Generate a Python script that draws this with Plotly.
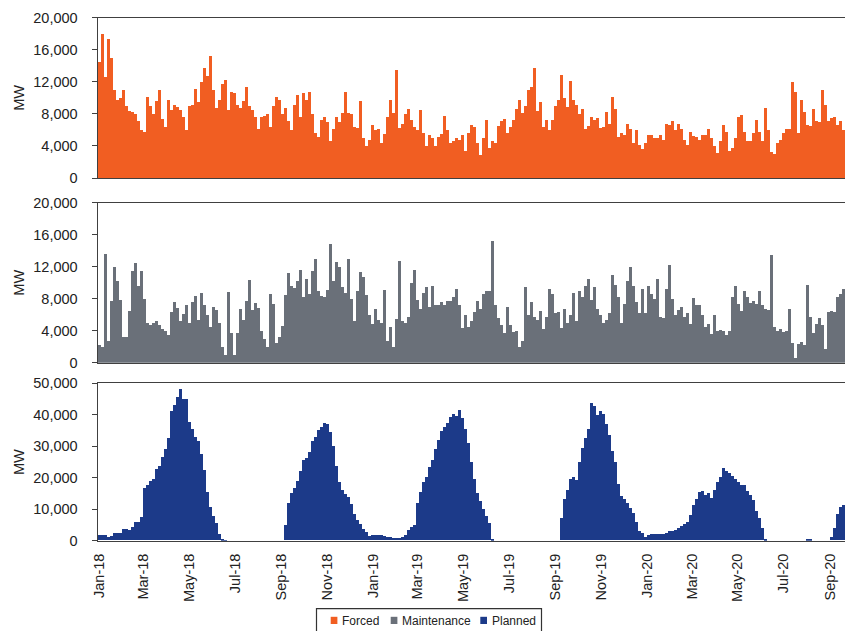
import pandas as pd
import plotly.graph_objects as go

# Outage levels in thousands of MW, one reading every 4 days from 1 Jan 2018
forced_k = [
    14.5, 18.0, 12.6, 17.4, 15.0, 11.0, 9.8, 10.0, 11.0, 9.0,
    8.4, 8.3, 8.0, 7.2, 6.0, 5.8, 10.2, 9.0, 8.0, 9.6,
    11.0, 7.4, 6.4, 9.8, 8.5, 9.2, 8.9, 8.5, 7.6, 6.0,
    9.0, 9.2, 11.2, 9.5, 12.0, 13.8, 12.8, 15.2, 11.0, 8.8,
    9.8, 11.8, 12.3, 8.5, 10.8, 10.6, 9.2, 8.8, 9.6, 11.4,
    9.0, 8.5, 7.6, 6.2, 7.6, 7.8, 8.0, 6.4, 9.0, 10.2,
    9.8, 8.0, 8.8, 7.2, 6.0, 9.2, 10.4, 7.6, 10.6, 9.8,
    10.8, 8.0, 5.6, 5.2, 7.3, 7.6, 7.0, 4.6, 6.2, 7.6,
    7.0, 8.2, 10.8, 8.2, 8.0, 6.4, 6.3, 9.6, 5.0, 4.0,
    4.8, 6.6, 6.0, 6.2, 4.4, 5.5, 7.6, 9.8, 8.2, 13.5,
    6.3, 6.8, 8.0, 8.7, 7.3, 6.4, 6.0, 8.5, 5.6, 4.0,
    5.4, 5.0, 4.0, 5.2, 5.5, 7.8, 6.0, 4.4, 4.6, 5.0,
    4.8, 5.4, 3.4, 5.6, 6.6, 6.4, 4.4, 2.9, 5.0, 7.3,
    3.8, 4.6, 4.4, 6.5, 7.1, 7.4, 5.6, 6.4, 7.3, 8.6,
    9.8, 8.1, 9.0, 11.0, 11.4, 13.7, 8.4, 9.5, 6.4, 7.3,
    6.0, 7.3, 9.0, 9.8, 12.9, 10.0, 8.9, 12.2, 9.8, 9.2,
    8.0, 8.6, 6.2, 6.5, 7.6, 7.3, 7.5, 6.3, 6.4, 8.3,
    6.8, 10.2, 8.7, 5.2, 5.6, 5.4, 6.8, 6.2, 4.4, 6.0,
    4.2, 3.6, 4.4, 5.4, 5.4, 5.0, 5.0, 5.4, 4.8, 6.8,
    6.6, 7.2, 6.0, 6.8, 6.2, 4.8, 4.2, 5.8, 5.3, 5.2,
    4.8, 5.4, 5.4, 6.2, 5.0, 4.0, 3.2, 4.6, 6.6, 5.8,
    3.4, 3.8, 5.0, 7.7, 7.9, 5.8, 4.6, 4.6, 5.6, 7.3,
    5.8, 4.6, 8.8, 6.0, 3.3, 3.0, 4.4, 4.8, 5.6, 6.2,
    6.2, 12.0, 10.8, 5.6, 9.8, 8.3, 6.6, 6.5, 8.7, 7.2,
    7.0, 11.0, 9.2, 7.2, 7.5, 7.6, 6.6, 7.2, 6.0,
]

maintenance_k = [
    2.2, 2.0, 13.6, 2.8, 7.8, 12.0, 10.3, 7.9, 3.2, 3.3,
    6.5, 11.5, 12.5, 9.6, 11.5, 8.0, 5.0, 4.8, 5.0, 5.2,
    4.8, 4.2, 4.0, 3.5, 6.4, 7.6, 6.9, 5.2, 6.1, 7.2,
    5.0, 7.6, 8.4, 5.4, 8.8, 7.3, 6.0, 4.5, 7.0, 6.6,
    5.0, 2.0, 1.0, 8.9, 3.8, 1.0, 3.8, 6.8, 5.4, 7.8,
    10.4, 6.6, 7.5, 6.9, 4.0, 3.0, 2.0, 8.6, 7.4, 2.5,
    3.2, 4.6, 8.5, 11.2, 9.6, 9.4, 10.2, 11.6, 8.2, 10.5,
    8.6, 11.5, 13.0, 9.0, 8.4, 8.3, 9.1, 14.9, 10.2, 12.6,
    12.0, 9.5, 8.8, 13.0, 8.0, 5.3, 9.0, 11.4, 10.8, 8.5,
    6.0, 4.9, 6.8, 5.4, 5.0, 9.1, 2.8, 4.5, 2.0, 5.5,
    12.8, 5.2, 5.0, 5.8, 10.0, 11.6, 7.9, 6.8, 8.7, 9.5,
    7.0, 9.6, 7.2, 7.2, 7.6, 7.3, 7.8, 7.7, 8.2, 9.3,
    7.3, 4.4, 6.0, 4.5, 5.3, 6.4, 7.8, 6.8, 8.6, 9.0,
    9.0, 15.3, 7.3, 5.6, 4.8, 3.7, 7.0, 4.8, 3.9, 4.0,
    2.0, 2.8, 9.5, 6.0, 7.6, 5.7, 5.4, 6.5, 4.2, 5.8,
    9.2, 8.6, 6.2, 6.4, 4.4, 6.8, 5.0, 6.0, 8.8, 5.3,
    9.0, 8.3, 9.6, 10.5, 7.9, 9.5, 6.8, 6.0, 5.0, 5.4,
    6.2, 11.0, 9.8, 8.2, 5.0, 7.4, 10.2, 12.0, 9.6, 7.6,
    6.2, 9.2, 6.2, 9.6, 8.6, 8.0, 10.5, 5.8, 5.6, 9.2,
    12.2, 8.0, 6.0, 6.6, 7.0, 5.8, 6.2, 4.9, 8.1, 7.2,
    7.2, 6.0, 4.5, 4.9, 3.6, 6.0, 4.0, 4.1, 4.0, 3.5,
    4.0, 8.2, 9.6, 7.4, 6.5, 9.0, 8.2, 7.5, 7.8, 7.4,
    9.0, 7.3, 6.8, 6.6, 13.5, 4.5, 4.0, 4.2, 3.9, 4.0,
    6.8, 2.5, 0.6, 2.4, 2.6, 2.2, 9.7, 5.8, 3.8, 4.9,
    5.6, 4.8, 1.8, 6.4, 6.5, 6.4, 8.2, 8.6, 9.3,
]

planned_k = [
    1.8, 1.7, 1.6, 1.2, 1.5, 2.5, 2.5, 2.3, 3.6, 3.6,
    3.2, 4.2, 5.8, 6.0, 7.5, 16.5, 17.5, 19.0, 19.5, 22.8,
    23.5, 26.5, 29.0, 32.5, 41.0, 43.0, 45.5, 48.0, 45.0, 45.0,
    37.5, 35.5, 32.8, 31.5, 27.5, 22.5, 15.5, 10.5, 7.6, 5.6,
    2.0, 0.5, 0.1, 0, 0, 0, 0, 0, 0, 0,
    0, 0, 0, 0, 0, 0, 0, 0, 0, 0,
    0, 0, 5.0, 12.0, 15.0, 16.5, 19.0, 22.0, 25.6, 26.3,
    28.0, 31.5, 33.0, 35.0, 36.0, 37.3, 37.0, 34.5, 30.0, 23.5,
    18.5, 16.0, 14.6, 13.8, 11.5, 8.5, 6.4, 5.2, 3.6, 2.8,
    1.4, 1.6, 1.8, 1.8, 1.7, 1.5, 1.2, 1.0, 0.9, 0.9,
    0.9, 1.2, 1.8, 3.4, 4.4, 5.0, 12.0, 15.5, 18.7, 20.3,
    23.4, 25.5, 29.0, 31.8, 34.8, 36.0, 37.2, 39.2, 40.0, 39.5,
    41.5, 39.0, 35.5, 31.0, 25.0, 19.5, 15.0, 12.6, 10.0, 7.8,
    5.5, 0.3, 0, 0, 0, 0, 0, 0, 0, 0,
    0, 0, 0, 0, 0, 0, 0, 0, 0, 0,
    0, 0, 0, 0, 7.2, 13.0, 16.0, 19.5, 20.2, 19.3,
    25.0, 29.5, 32.5, 35.5, 43.5, 42.8, 39.8, 41.0, 40.0, 37.0,
    33.5, 28.5, 25.0, 17.8, 14.2, 13.0, 12.0, 10.2, 8.6, 6.0,
    2.9, 2.3, 1.2, 1.6, 2.0, 2.1, 2.1, 2.1, 2.1, 2.2,
    2.9, 2.9, 3.3, 3.8, 4.6, 5.2, 6.0, 8.0, 11.3, 13.3,
    15.4, 15.6, 14.3, 15.0, 13.5, 16.0, 18.5, 20.0, 23.0, 22.0,
    21.5, 20.5, 19.4, 18.6, 17.7, 17.5, 15.8, 14.5, 12.9, 9.4,
    7.1, 4.0, 0.6, 0, 0, 0, 0, 0, 0, 0,
    0, 0, 0, 0, 0, 0, 0.4, 0.4, 0, 0,
    0, 0, 0, 0, 1.0, 4.0, 8.5, 10.5, 11.3,
]

assert len(forced_k) == len(maintenance_k) == len(planned_k)

series_names = ["Forced", "Maintenance", "Planned"]
series_colors = ["#f15e22", "#6a7079", "#1c3a89"]
y_ticks = [[0, 4000, 8000, 12000, 16000, 20000],
           [0, 4000, 8000, 12000, 16000, 20000],
           [0, 10000, 20000, 30000, 40000, 50000]]

dates = pd.date_range("2018-01-01", periods=len(forced_k), freq="4D")
values_mw = [[v * 1000 for v in s] for s in (forced_k, maintenance_k, planned_k)]

W, H = 845, 631


def px_x(x):
    return x / W


def px_y(y):
    return 1 - y / H


# panel extents in pixels (top, bottom)
panels = [(17.7, 178.0), (202.7, 362.7), (383.3, 540.7)]
x_domain = [px_x(97.7), 1.0]
x_range = ["2017-12-29 14:00", "2020-09-21"]
line_col = "#404040"
tick_font = dict(family="Liberation Sans, Arial, sans-serif", size=14.5, color="#222222")
bar_width_ms = 4.15 * 86400000

fig = go.Figure()
for k in range(3):
    suffix = "" if k == 0 else str(k + 1)
    fig.add_trace(go.Bar(
        x=dates, y=values_mw[k], width=bar_width_ms,
        marker=dict(color=series_colors[k], line=dict(width=0)),
        name=series_names[k], showlegend=False,
        xaxis="x" + suffix, yaxis="y" + suffix,
    ))
    top, bottom = panels[k]
    fig.update_layout(**{
        "xaxis" + suffix: dict(
            domain=x_domain, anchor="y" + suffix, range=x_range, type="date",
            showgrid=False, zeroline=False, showline=True, mirror=True,
            linecolor=line_col, linewidth=1.3, ticks="", automargin=False,
            showticklabels=(k == 2), tickformat="%b-%y", dtick="M2",
            tick0="2018-01-01", tickangle=-90, tickfont=tick_font,
            ticklabelstandoff=6,
        ),
        "yaxis" + suffix: dict(
            domain=[px_y(bottom), px_y(top)], anchor="x" + suffix,
            range=[0, y_ticks[k][-1]], tickvals=y_ticks[k], tickformat=",",
            showgrid=False, zeroline=False, showline=True, linecolor=line_col,
            linewidth=1.3, ticks="outside", ticklen=5, tickcolor=line_col,
            tickfont=tick_font, ticklabelstandoff=11, automargin=False,
        ),
    })

annotations = []
for top, bottom in panels:
    annotations.append(dict(
        text="MW", x=px_x(19), y=px_y((top + bottom) / 2), xref="paper", yref="paper",
        textangle=-90, showarrow=False, xanchor="center", yanchor="middle",
        font=dict(family="Liberation Sans, Arial, sans-serif", size=14.5, color="#222222"),
    ))

# legend drawn as a framed row of swatches
legend_font = dict(family="Liberation Sans, Arial, sans-serif", size=12, color="#222222")
shapes = [dict(type="rect", xref="paper", yref="paper",
               x0=px_x(316.5), x1=px_x(541.5), y0=px_y(640), y1=px_y(608.7),
               line=dict(color="#333333", width=1.2), fillcolor="rgba(0,0,0,0)")]
swatch_x = [330.7, 390.7, 480.3]
text_x = [340.0, 399.5, 489.5]
for name, col, sx, tx in zip(series_names, series_colors, swatch_x, text_x):
    shapes.append(dict(type="rect", xref="paper", yref="paper",
                       x0=px_x(sx), x1=px_x(sx + 6.7), y0=px_y(624), y1=px_y(616.8),
                       line=dict(width=0), fillcolor=col))
    annotations.append(dict(text=name, x=px_x(tx), y=px_y(620.5), xref="paper",
                            yref="paper", showarrow=False, xanchor="left",
                            yanchor="middle", font=legend_font))

fig.update_layout(
    width=W, height=H, margin=dict(l=0, r=0, t=0, b=0, autoexpand=False),
    paper_bgcolor="white", plot_bgcolor="white", bargap=0,
    shapes=shapes, annotations=annotations, showlegend=False,
)

fig.write_html("out.html")
